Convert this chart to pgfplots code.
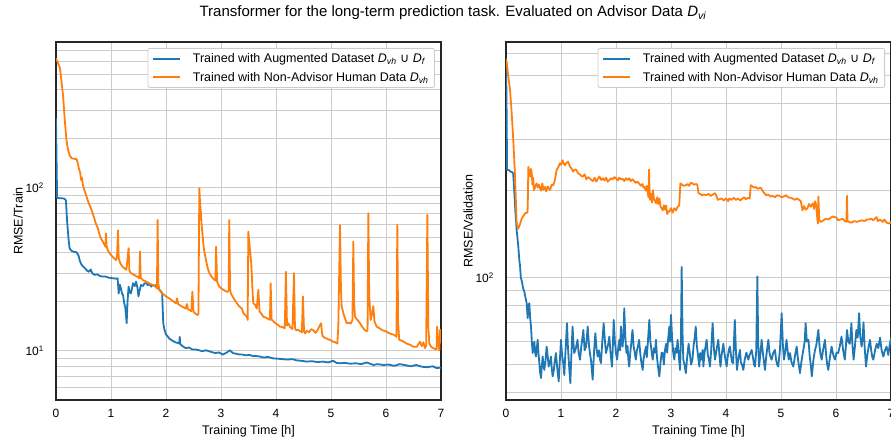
\documentclass[border=0pt]{standalone}
\usepackage{fontspec}
\setmainfont{Liberation Sans}
\newfontfamily\djv{DejaVu Sans}
\usepackage{pgfplots}
\pgfplotsset{compat=1.18}

\definecolor{tabblue}{HTML}{1F77B4}
\definecolor{taborange}{HTML}{FF7F0E}
\definecolor{gridgray}{HTML}{CCCCCC}
\newcommand{\Dv}[1]{\textit{D}\textsubscript{\textit{#1}}}

\pgfplotsset{
  panel/.style={
    scale only axis, width=385pt, height=358pt, anchor=south west,
    xmin=0, xmax=7, xtick={0,...,7},
    axis line style={black!85, line width=1.1pt},
    major tick length=0pt, minor tick length=0pt,
    grid=both,
    major grid style={gridgray, line width=0.9pt},
    minor grid style={gridgray, line width=0.9pt},
    tick label style={font=\fontsize{12}{14}\selectfont, inner sep=0pt},
    xticklabel style={anchor=north, yshift=-9pt},
    yticklabel style={anchor=east, xshift=-12pt},
    xlabel={Training Time [h]},
    every axis x label/.style={font=\fontsize{12.5}{15}\selectfont, inner sep=0pt,
      at={(axis description cs:0.5,0)}, anchor=north, yshift=-25.5pt},
    every axis y label/.style={font=\fontsize{12.5}{15}\selectfont, inner sep=0pt,
      at={(axis description cs:0,0.5)}, xshift=-33pt, rotate=90, anchor=south},
    legend style={at={(1,1)}, anchor=north east, xshift=-6pt, yshift=-6pt,
      draw=gridgray, line width=0.8pt, rounded corners=2pt, fill=white,
      font=\fontsize{12.5}{15}\selectfont, inner xsep=4pt, inner ysep=3pt,
      row sep=4pt},
    legend cell align=left,
    legend image code/.code={\draw[#1, line width=1.8pt] (0pt,0pt) -- (27pt,0pt); \path (37pt,0pt);},
    every axis plot/.append style={line width=1.8pt, line join=round},
  }
}

\begin{document}
\begin{tikzpicture}
\path[use as bounding box] (0,0) rectangle (891pt,442pt);
\node[font=\fontsize{15}{18}\selectfont, anchor=base] at (453pt,425pt)
  {Transformer for the long-term prediction task. Evaluated on Advisor Data \Dv{vi}};

% ---------- left: training error
\begin{axis}[panel, ymode=log, xticklabels={0,1,2,3,4,5,6,7}, at={(56pt,42pt)},
  ymin=5, ymax=786,
  ytick={10,100}, yticklabels={10\textsuperscript{1},10\textsuperscript{2}},
  minor ytick={6,7,8,9,20,30,40,50,60,70,80,90,200,300,400,500,600,700},
  ylabel={RMSE/Train}]
\addplot[tabblue] coordinates {
(0,268) (0.01,150) (0.02,87) (0.06,86.5) (0.1,86.5) (0.15,86) (0.18,84) (0.2,64) (0.215,55) (0.23,48) (0.245,43) (0.26,42) (0.29,41) (0.33,40.5) (0.36,40.5) (0.39,39.5) (0.41,38.5) (0.43,36) (0.46,34) (0.49,33) (0.53,32) (0.57,31) (0.6,30.6) (0.63,31.6) (0.66,30) (0.7,29.3) (0.75,29.5) (0.8,28.8) (0.85,28.6) (0.9,28.6) (0.95,28.2) (1.0,28.0) (1.05,27.9) (1.1,27.7) (1.12,27.9) (1.14,22.5) (1.16,25.5) (1.18,24.2) (1.2,22.5) (1.22,22.0) (1.24,19.6) (1.26,18.5) (1.285,14.8) (1.3,20) (1.32,24.8) (1.34,23) (1.36,22.5) (1.38,24) (1.4,26.0) (1.43,25) (1.455,26.6) (1.48,24.5) (1.5,21.6) (1.52,23.5) (1.545,25.4) (1.58,25) (1.61,26) (1.64,26.0) (1.67,25.3) (1.7,25.8) (1.73,24.8) (1.76,25.5) (1.79,25) (1.82,25.4) (1.85,24.3) (1.88,23.7) (1.91,23.2) (1.93,22.5) (1.95,14.8) (1.97,13.6) (2.0,12.6) (2.03,12.3) (2.06,11.9) (2.09,11.7) (2.13,11.5) (2.17,11.3) (2.21,11.2) (2.24,11.1) (2.25,12.2) (2.26,11.0) (2.3,10.7) (2.36,10.4) (2.42,10.5) (2.48,10.2) (2.545,10.2) (2.6,10.1) (2.66,9.95) (2.72,10.1) (2.79,9.94) (2.85,9.8) (2.9,9.7) (2.96,9.8) (3.03,9.5) (3.1,9.75) (3.16,10.1) (3.18,9.94) (3.22,9.7) (3.28,9.6) (3.34,9.5) (3.39,9.5) (3.45,9.4) (3.52,9.45) (3.58,9.3) (3.64,9.3) (3.7,9.25) (3.78,9.1) (3.85,9.2) (3.95,9.0) (4.05,8.95) (4.13,8.9) (4.2,8.85) (4.3,8.9) (4.38,8.75) (4.46,8.7) (4.56,8.6) (4.65,8.65) (4.75,8.55) (4.85,8.6) (4.95,8.5) (5.04,8.7) (5.1,8.45) (5.164,8.4) (5.25,8.45) (5.35,8.35) (5.45,8.4) (5.55,8.3) (5.65,8.5) (5.77,8.2) (5.85,8.3) (5.95,8.2) (6.05,8.25) (6.15,8.1) (6.25,8.3) (6.376,8.15) (6.45,8.05) (6.55,8.2) (6.65,8.0) (6.75,7.95) (6.85,8.05) (6.92,7.85) (7.0,7.9)
};
\addlegendentry{Trained with Augmented Dataset \Dv{vh} {\djv ∪} \Dv{f}}
\addplot[taborange] coordinates {
(0,625) (0.03,590) (0.073,542) (0.1,450) (0.13,363) (0.16,260) (0.19,197) (0.22,171) (0.25,158) (0.285,152) (0.33,151) (0.376,150) (0.4,140) (0.42,130) (0.44,124) (0.455,112) (0.47,116) (0.49,104) (0.515,97) (0.54,92) (0.576,84) (0.6,80) (0.636,75) (0.66,71) (0.697,65) (0.72,61) (0.758,57) (0.79,52) (0.818,49) (0.85,47) (0.879,45) (0.9,43.5) (0.909,52.7) (0.92,44) (0.939,41.6) (0.97,40) (1.0,38.8) (1.04,37.5) (1.09,36.1) (1.11,38) (1.127,55) (1.14,37) (1.17,34.5) (1.21,32.9) (1.25,32) (1.28,31.5) (1.32,42.7) (1.335,31) (1.364,30) (1.4,29.6) (1.44,29) (1.48,28.5) (1.515,27.9) (1.527,40.7) (1.54,28.2) (1.58,27.2) (1.62,26.8) (1.66,26.4) (1.697,26.0) (1.74,25.5) (1.78,25.2) (1.82,24.6) (1.835,24.2) (1.848,63.6) (1.86,26) (1.879,23.7) (1.92,22.8) (1.96,22.2) (2.0,21.6) (2.06,21.0) (2.1,20.5) (2.14,20.1) (2.18,19.6) (2.2,21.0) (2.22,19.4) (2.24,19.2) (2.28,18.8) (2.32,18.5) (2.36,18.2) (2.38,19.4) (2.4,18.0) (2.42,17.9) (2.46,17.5) (2.48,23.1) (2.5,17.4) (2.54,16.9) (2.576,16.6) (2.59,17) (2.606,99.6) (2.62,80) (2.636,70) (2.65,58) (2.667,50.3) (2.69,42) (2.727,36.1) (2.76,32) (2.79,30) (2.83,28.5) (2.87,27.5) (2.9,27) (2.91,43.6) (2.93,26.5) (2.97,24.8) (3.02,24) (3.07,23.4) (3.12,23) (3.14,23.5) (3.15,63.6) (3.165,24) (3.18,22.5) (3.23,21) (3.28,19.8) (3.33,18.8) (3.38,18.2) (3.406,17.1) (3.44,16.6) (3.47,16.2) (3.485,15.5) (3.497,53.9) (3.527,41.6) (3.55,34.5) (3.576,22.5) (3.588,19.6) (3.62,19.2) (3.65,18.2) (3.679,23.7) (3.7,17.5) (3.74,16.8) (3.77,16.2) (3.82,16.0) (3.86,15.7) (3.89,15.5) (3.903,26.0) (3.92,15.6) (3.952,15.2) (4.0,14.7) (4.04,14.4) (4.07,14.1) (4.12,14.0) (4.16,13.8) (4.18,30.6) (4.2,14.3) (4.224,14.8) (4.26,14.0) (4.3,13.6) (4.327,30) (4.345,13.8) (4.364,13.4) (4.4,13.5) (4.44,13.2) (4.47,13.0) (4.49,21.6) (4.51,13.2) (4.527,12.8) (4.56,13.3) (4.6,13.0) (4.64,13.6) (4.679,13.4) (4.72,12.9) (4.76,13.5) (4.8,14.4) (4.82,14.8) (4.84,12.6) (4.86,12.2) (4.9,12.0) (4.95,11.8) (5.0,11.6) (5.04,11.4) (5.08,11.3) (5.115,11.1) (5.133,14.1) (5.164,59.3) (5.18,25) (5.194,18.8) (5.224,17.1) (5.25,16) (5.285,14.8) (5.32,14.9) (5.36,14.7) (5.39,15.5) (5.406,46.9) (5.42,20) (5.436,16.2) (5.48,15.5) (5.527,14.8) (5.57,14.0) (5.618,13.4) (5.65,13.2) (5.665,13.5) (5.679,70) (5.695,22) (5.721,15.5) (5.74,16.5) (5.77,18.8) (5.79,15.2) (5.83,14.1) (5.88,13.8) (5.93,13.4) (6.0,13.2) (6.012,13.1) (6.07,12.8) (6.133,12.6) (6.17,12.4) (6.19,12.2) (6.206,59.3) (6.22,15) (6.24,11.7) (6.3,11.5) (6.376,11.1) (6.44,10.9) (6.5,10.6) (6.56,10.6) (6.618,11.4) (6.65,10.7) (6.68,11.3) (6.709,10.4) (6.73,10.8) (6.752,68.3) (6.77,14) (6.788,11.1) (6.82,10.6) (6.86,10.4) (6.92,10.2) (6.93,14.1) (6.95,11.5) (6.97,10.1) (6.985,13.5) (7.0,11.2)
};
\addlegendentry{Trained with Non-Advisor Human Data \Dv{vh}}
\end{axis}

% ---------- right: validation error
\begin{axis}[panel, ymode=log, xticklabels={0,1,2,3,4,5,6,7}, at={(506pt,42pt)},
  ymin=37.7, ymax=655,
  ytick={100}, yticklabels={10\textsuperscript{2}},
  minor ytick={40,50,60,70,80,90,200,300,400,500,600},
  ylabel={RMSE/Validation}]
\addplot[tabblue] coordinates {
(0,575) (0.01,400) (0.02,236) (0.05,236) (0.08,233) (0.11,232) (0.13,230) (0.15,200) (0.17,170) (0.194,146) (0.224,128) (0.242,115) (0.255,110) (0.27,100) (0.29,96.9) (0.31,92) (0.333,89.4) (0.35,86) (0.376,81.6) (0.394,72.4) (0.41,80) (0.424,81.6) (0.44,72) (0.455,67.7) (0.47,60) (0.485,54.8) (0.5,58) (0.515,60) (0.53,55) (0.545,53.3) (0.56,57) (0.576,60.9) (0.59,55) (0.606,50.6) (0.62,47) (0.636,44.9) (0.65,49) (0.667,53.3) (0.68,50) (0.697,47.9) (0.72,52) (0.739,57.7) (0.76,53) (0.776,49.2) (0.8,51) (0.818,53.3) (0.83,49) (0.848,45.5) (0.87,48) (0.89,52) (0.909,54.8) (0.93,49) (0.958,43.7) (0.975,50) (1.0,60.9) (1.02,54) (1.04,50.6) (1.06,46) (1.08,55) (1.109,69.5) (1.125,58) (1.14,52) (1.155,47) (1.17,43.1) (1.19,55) (1.21,67.7) (1.225,60) (1.24,54.8) (1.27,57) (1.30,60.9) (1.32,55) (1.345,52) (1.37,58) (1.39,62) (1.406,65.9) (1.43,56) (1.455,57.7) (1.47,62) (1.485,67.7) (1.51,58) (1.53,54) (1.545,52) (1.56,48) (1.576,44.3) (1.6,55) (1.624,64.2) (1.645,57) (1.667,53.3) (1.69,56) (1.71,52) (1.727,50.6) (1.75,60) (1.776,69.5) (1.8,60) (1.818,54.8) (1.84,57) (1.86,59) (1.879,62.5) (1.9,55) (1.927,49.2) (1.94,56) (1.958,71.4) (1.98,60) (2.0,54.8) (2.02,52) (2.04,57) (2.06,60.9) (2.075,56) (2.09,67.7) (2.105,60) (2.12,57.7) (2.135,63) (2.15,78.3) (2.17,62) (2.19,54.8) (2.21,58) (2.225,52) (2.24,49.2) (2.26,55) (2.28,60) (2.30,65.9) (2.32,58) (2.34,55) (2.36,52) (2.38,56) (2.40,58) (2.42,60.9) (2.44,55) (2.46,51) (2.485,47.9) (2.5,52) (2.52,55) (2.545,57.7) (2.56,53) (2.58,60) (2.606,71.4) (2.625,60) (2.645,56) (2.667,52) (2.69,57) (2.71,55) (2.727,60.9) (2.745,53) (2.765,49) (2.788,45.5) (2.81,51) (2.83,55) (2.85,54.8) (2.87,50) (2.89,56) (2.91,59) (2.93,55) (2.95,62) (2.97,67.7) (2.985,60) (3.0,74.3) (3.02,62) (3.04,55) (3.06,52) (3.08,57) (3.1,55) (3.12,60.9) (3.14,54) (3.164,47.9) (3.18,60) (3.194,109) (3.21,64) (3.224,52) (3.245,50) (3.27,46.7) (3.29,52) (3.32,59) (3.34,55) (3.365,50) (3.39,52) (3.41,58) (3.43,62) (3.45,67.7) (3.47,58) (3.49,54) (3.515,49.2) (3.53,54.8) (3.55,52) (3.576,56.2) (3.588,49.2) (3.61,55) (3.636,59) (3.648,60.9) (3.67,54) (3.69,52) (3.709,49.2) (3.73,56) (3.757,69.5) (3.78,57) (3.8,52) (3.82,55) (3.84,58) (3.86,60.9) (3.88,54) (3.9,49.2) (3.92,54) (3.952,59) (3.97,55) (3.99,52) (4.012,49.2) (4.03,53) (4.05,56) (4.07,57.7) (4.09,54) (4.11,51) (4.13,50.6) (4.16,71.4) (4.18,56) (4.2,47.9) (4.22,52) (4.254,56.2) (4.27,51) (4.29,50) (4.315,47.9) (4.34,52) (4.37,55) (4.406,52) (4.43,54) (4.467,56.2) (4.49,53) (4.51,50) (4.527,49.2) (4.55,56) (4.57,101) (4.585,60) (4.6,49.2) (4.62,53) (4.648,60.9) (4.67,55) (4.69,51) (4.709,47.9) (4.73,53) (4.75,57) (4.77,60.9) (4.79,55) (4.81,53) (4.83,52) (4.86,55) (4.89,56.2) (4.91,52) (4.93,50) (4.95,49.2) (4.98,56) (5.012,75.3) (5.035,58) (5.055,52) (5.08,56) (5.1,60.9) (5.12,56) (5.14,52) (5.164,54.8) (5.19,51) (5.224,49.2) (5.25,53) (5.285,57.7) (5.31,52) (5.345,46.7) (5.37,51) (5.406,56.2) (5.43,60) (5.448,69.5) (5.47,60) (5.5,60.9) (5.52,54) (5.54,50) (5.56,45.5) (5.59,52) (5.618,56.2) (5.64,58) (5.66,62) (5.679,65.9) (5.7,58) (5.72,54) (5.74,52) (5.77,57) (5.8,60.9) (5.82,54) (5.84,50) (5.86,47.9) (5.89,53) (5.92,57.7) (5.95,54) (5.98,52) (6.01,55) (6.04,54.8) (6.07,58) (6.1,62.5) (6.13,56) (6.16,52) (6.18,58) (6.2,65.9) (6.225,60) (6.25,59) (6.265,63) (6.28,69.5) (6.3,58) (6.32,52) (6.345,58) (6.37,65.9) (6.395,62) (6.42,75.3) (6.44,63) (6.466,57.7) (6.485,62) (6.5,70) (6.52,58) (6.545,49.2) (6.57,54) (6.595,58) (6.618,60.9) (6.64,56) (6.66,53) (6.679,52) (6.71,56) (6.74,59) (6.77,57) (6.8,62) (6.83,56) (6.86,53.3) (6.89,56) (6.92,57.7) (6.95,54) (6.98,59) (7.0,62)
};
\addlegendentry{Trained with Augmented Dataset \Dv{vh} {\djv ∪} \Dv{f}}
\addplot[taborange] coordinates {
(0,570) (0.012,559) (0.04,500) (0.073,447) (0.1,380) (0.133,299) (0.164,224) (0.194,154) (0.224,148) (0.25,152) (0.285,160) (0.31,163) (0.345,167) (0.388,168) (0.395,175) (0.406,242) (0.42,228) (0.436,224) (0.45,238) (0.467,232) (0.48,210) (0.495,222) (0.509,201) (0.53,206) (0.557,212) (0.58,205) (0.6,210) (0.618,204) (0.64,200) (0.66,212) (0.68,202) (0.709,206) (0.73,199) (0.76,207) (0.8,201) (0.83,210) (0.86,209) (0.89,218) (0.92,236) (0.95,241) (0.98,249) (1.0,246) (1.03,255) (1.05,248) (1.07,245) (1.1,250) (1.13,252) (1.16,243) (1.19,239) (1.22,233) (1.25,237) (1.28,236) (1.31,230) (1.34,228) (1.37,225) (1.4,224) (1.43,228) (1.46,219) (1.49,223) (1.52,221) (1.55,218) (1.58,216) (1.61,222) (1.64,215) (1.67,220) (1.7,224) (1.73,218) (1.76,221) (1.79,217) (1.82,222) (1.85,215) (1.88,218) (1.91,221) (1.94,219) (1.97,223) (2.0,221) (2.03,217) (2.06,222) (2.09,219) (2.12,220) (2.15,216) (2.18,221) (2.21,218) (2.24,221) (2.27,216) (2.3,219) (2.33,216) (2.36,213) (2.39,215) (2.42,212) (2.45,208) (2.48,211) (2.5,205) (2.52,206) (2.54,200) (2.56,208) (2.58,196) (2.59,190) (2.6,237) (2.61,200) (2.62,186) (2.64,195) (2.655,182) (2.67,201) (2.69,188) (2.71,184) (2.73,181) (2.75,190) (2.77,180) (2.79,188) (2.81,176) (2.83,174) (2.85,171) (2.87,178) (2.89,172) (2.91,178) (2.93,166) (2.95,170) (2.97,169) (3.0,174) (3.03,168) (3.06,174) (3.09,171) (3.12,176) (3.15,178) (3.17,212) (3.2,210) (3.23,208) (3.27,209) (3.3,211) (3.33,208) (3.36,213) (3.39,212) (3.42,210) (3.46,211) (3.48,209) (3.5,196) (3.53,195) (3.56,193) (3.6,194) (3.64,193) (3.68,195) (3.72,192) (3.76,194) (3.8,196) (3.82,193) (3.85,186) (3.88,187) (3.92,188) (3.96,185) (4.0,188) (4.04,184) (4.06,188) (4.1,186) (4.14,189) (4.18,186) (4.22,188) (4.26,185) (4.3,188) (4.33,190) (4.36,187) (4.4,189) (4.43,188) (4.45,209) (4.48,207) (4.51,205) (4.54,206) (4.58,203) (4.62,205) (4.64,204) (4.67,199) (4.7,196) (4.73,193) (4.77,194) (4.81,191) (4.85,192) (4.89,190) (4.93,193) (4.97,192) (5.01,190) (5.05,191) (5.09,193) (5.13,190) (5.17,189) (5.21,188) (5.25,186) (5.29,188) (5.33,186) (5.36,184) (5.38,176) (5.39,171) (5.42,177) (5.45,172) (5.48,174) (5.51,180) (5.54,176) (5.58,181) (5.6,173) (5.62,184) (5.64,178) (5.66,160) (5.67,154) (5.68,191) (5.695,158) (5.73,156) (5.77,158) (5.82,160) (5.86,159) (5.9,161) (5.94,163) (5.97,162) (6.0,162) (6.04,158) (6.08,159) (6.12,160) (6.16,157) (6.19,156) (6.2,192) (6.21,157) (6.24,156) (6.28,155) (6.33,157) (6.38,156) (6.42,157) (6.47,158) (6.52,157) (6.56,159) (6.6,159) (6.64,160) (6.68,158) (6.72,161) (6.74,162) (6.76,157) (6.8,159) (6.85,156) (6.88,159) (6.92,155) (6.97,154) (7.0,156)
};
\addlegendentry{Trained with Non-Advisor Human Data \Dv{vh}}
\end{axis}
\end{tikzpicture}
\end{document}
